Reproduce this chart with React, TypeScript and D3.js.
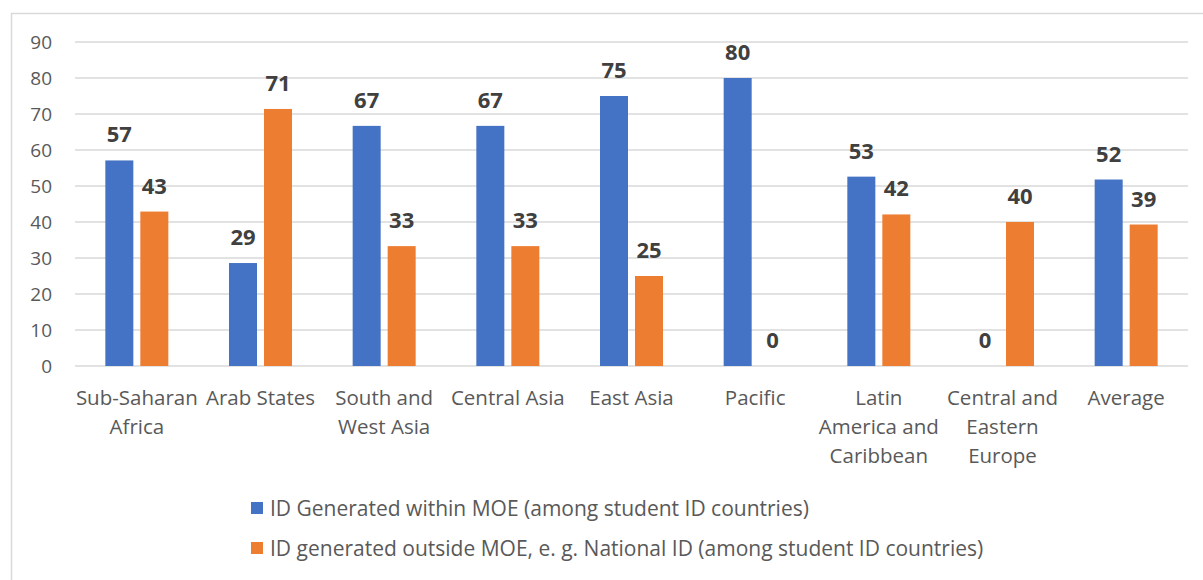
import React from "react";
import * as d3 from "d3";

const categories = [
  "Sub-Saharan Africa",
  "Arab States",
  "South and West Asia",
  "Central Asia",
  "East Asia",
  "Pacific",
  "Latin America and Caribbean",
  "Central and Eastern Europe",
  "Average",
];
const categoryLines = [
  ["Sub-Saharan", "Africa"],
  ["Arab States"],
  ["South and", "West Asia"],
  ["Central Asia"],
  ["East Asia"],
  ["Pacific"],
  ["Latin", "America and", "Caribbean"],
  ["Central and", "Eastern", "Europe"],
  ["Average"],
];
const withinMOE = [57.1, 28.6, 66.7, 66.7, 75, 80, 52.6, 0, 51.8];
const outsideMOE = [42.9, 71.4, 33.3, 33.3, 25, 0, 42.1, 40, 39.3];
const seriesNames = [
  "ID Generated within MOE (among student ID countries)",
  "ID generated outside MOE, e. g. National ID (among student ID countries)",
];
const yTicks = [0, 10, 20, 30, 40, 50, 60, 70, 80, 90];

const W = 1203;
const H = 580;
const FONT = "'Open Sans', sans-serif";

export default function App() {
  const left = 75;
  const right = 1188;
  const top = 42;
  const bottom = 366;
  const x = d3.scaleBand<string>().domain(categories).range([left, right]);
  const y = d3.scaleLinear().domain([0, 90]).range([bottom, top]);
  const barW = 28;
  const gap = 7;
  const colors = ["#4472C4", "#ED7D31"];
  const series = [withinMOE, outsideMOE];

  return (
    <svg
      width={W}
      height={H}
      style={{ position: "absolute", left: 0, top: 0, background: "#fff" }}
      fontFamily={FONT}
    >
      <rect x={11.5} y={13.5} width={1200} height={600} fill="#fff" stroke="#d9d9d9" strokeWidth={1.5} />
      {yTicks.map((t) => (
        <g key={t}>
          <line x1={left} x2={right} y1={y(t)} y2={y(t)} stroke="#d9d9d9" strokeWidth={1.5} />
          <text x={52} y={y(t)} dy="0.36em" textAnchor="end" fontSize={19} fill="#595959">
            {t}
          </text>
        </g>
      ))}
      {categories.map((c, i) => {
        const cx = (x(c) as number) + x.bandwidth() / 2;
        return (
          <g key={c}>
            {series.map((s, si) => {
              const bx = si === 0 ? cx - gap / 2 - barW : cx + gap / 2;
              const v = s[i];
              return (
                <g key={si}>
                  {v > 0 && (
                    <rect x={bx} y={y(v)} width={barW} height={y(0) - y(v)} fill={colors[si]} />
                  )}
                  <text
                    x={bx + barW / 2}
                    y={y(v) - 18}
                    textAnchor="middle"
                    fontSize={22}
                    fontWeight="bold"
                    fill="#404040"
                  >
                    {Math.round(v)}
                  </text>
                </g>
              );
            })}
            {categoryLines[i].map((ln, li) => (
              <text
                key={li}
                x={cx}
                y={398 + li * 29}
                dy="0.36em"
                textAnchor="middle"
                fontSize={20.5}
                fill="#595959"
              >
                {ln}
              </text>
            ))}
          </g>
        );
      })}
      {seriesNames.map((n, i) => (
        <g key={n}>
          <rect x={251} y={502 + i * 40} width={12} height={12} fill={colors[i]} />
          <text x={270} y={508 + i * 40} dy="0.36em" fontSize={21} fill="#595959">
            {n}
          </text>
        </g>
      ))}
    </svg>
  );
}
